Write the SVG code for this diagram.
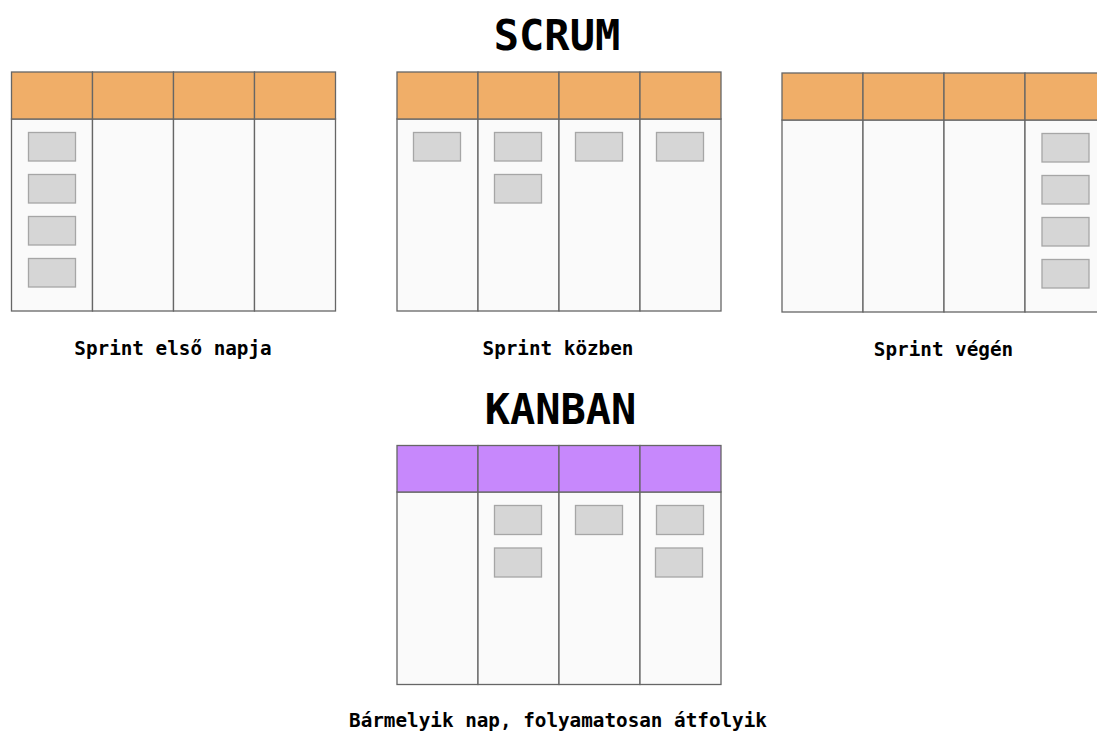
<svg xmlns="http://www.w3.org/2000/svg" width="1097" height="731" viewBox="0 0 1097 731">
<style>
.t{font-family:"DejaVu Sans Mono","Liberation Mono",monospace;font-weight:bold;fill:#000;text-anchor:middle}
.title{font-size:42px}
.lbl{font-size:19.3px}
.body{fill:#fafafa;stroke:#666;stroke-width:1.3}
.hs{fill:#f0ae68;stroke:#666;stroke-width:1.3}
.hk{fill:#c788fc;stroke:#666;stroke-width:1.3}
.card{fill:#d6d6d6;stroke:#a6a6a6;stroke-width:1.3}
</style>
<rect width="1097" height="731" fill="#fff"/>
<text class="t title" x="557" y="50">SCRUM</text>
<g id="board1">
<rect class="body" x="11.5" y="119" width="81" height="192"/>
<rect class="body" x="92.5" y="119" width="81" height="192"/>
<rect class="body" x="173.5" y="119" width="81" height="192"/>
<rect class="body" x="254.5" y="119" width="81" height="192"/>
<rect class="hs" x="11.5" y="72" width="81" height="47"/>
<rect class="hs" x="92.5" y="72" width="81" height="47"/>
<rect class="hs" x="173.5" y="72" width="81" height="47"/>
<rect class="hs" x="254.5" y="72" width="81" height="47"/>
<rect class="card" x="28.5" y="132.5" width="47" height="28.5"/>
<rect class="card" x="28.5" y="174.5" width="47" height="28.5"/>
<rect class="card" x="28.5" y="216.5" width="47" height="28.5"/>
<rect class="card" x="28.5" y="258.5" width="47" height="28.5"/>
<text class="t lbl" x="173" y="355">Sprint első napja</text>
</g>
<g id="board2">
<rect class="body" x="397" y="119" width="81" height="192"/>
<rect class="body" x="478" y="119" width="81" height="192"/>
<rect class="body" x="559" y="119" width="81" height="192"/>
<rect class="body" x="640" y="119" width="81" height="192"/>
<rect class="hs" x="397" y="72" width="81" height="47"/>
<rect class="hs" x="478" y="72" width="81" height="47"/>
<rect class="hs" x="559" y="72" width="81" height="47"/>
<rect class="hs" x="640" y="72" width="81" height="47"/>
<rect class="card" x="413.5" y="132.5" width="47" height="28.5"/>
<rect class="card" x="494.5" y="132.5" width="47" height="28.5"/>
<rect class="card" x="494.5" y="174.5" width="47" height="28.5"/>
<rect class="card" x="575.5" y="132.5" width="47" height="28.5"/>
<rect class="card" x="656.5" y="132.5" width="47" height="28.5"/>
<text class="t lbl" x="558" y="355">Sprint közben</text>
</g>
<g id="board3">
<rect class="body" x="782" y="120" width="81" height="192"/>
<rect class="body" x="863" y="120" width="81" height="192"/>
<rect class="body" x="944" y="120" width="81" height="192"/>
<rect class="body" x="1025" y="120" width="81" height="192"/>
<rect class="hs" x="782" y="73" width="81" height="47"/>
<rect class="hs" x="863" y="73" width="81" height="47"/>
<rect class="hs" x="944" y="73" width="81" height="47"/>
<rect class="hs" x="1025" y="73" width="81" height="47"/>
<rect class="card" x="1042" y="133.5" width="47" height="28.5"/>
<rect class="card" x="1042" y="175.5" width="47" height="28.5"/>
<rect class="card" x="1042" y="217.5" width="47" height="28.5"/>
<rect class="card" x="1042" y="259.5" width="47" height="28.5"/>
<text class="t lbl" x="943.5" y="356">Sprint végén</text>
</g>
<text class="t title" x="560.5" y="424">KANBAN</text>
<g id="kanban">
<rect class="body" x="397" y="492" width="81" height="192.5"/>
<rect class="body" x="478" y="492" width="81" height="192.5"/>
<rect class="body" x="559" y="492" width="81" height="192.5"/>
<rect class="body" x="640" y="492" width="81" height="192.5"/>
<rect class="hk" x="397" y="445.5" width="81" height="46.5"/>
<rect class="hk" x="478" y="445.5" width="81" height="46.5"/>
<rect class="hk" x="559" y="445.5" width="81" height="46.5"/>
<rect class="hk" x="640" y="445.5" width="81" height="46.5"/>
<rect class="card" x="494.5" y="505.5" width="47" height="29"/>
<rect class="card" x="494.5" y="548" width="47" height="29"/>
<rect class="card" x="575.5" y="505.5" width="47" height="29"/>
<rect class="card" x="656.5" y="505.5" width="47" height="29"/>
<rect class="card" x="655.5" y="548" width="47" height="29"/>
<text class="t lbl" x="558" y="727">Bármelyik nap, folyamatosan átfolyik</text>
</g>
</svg>
